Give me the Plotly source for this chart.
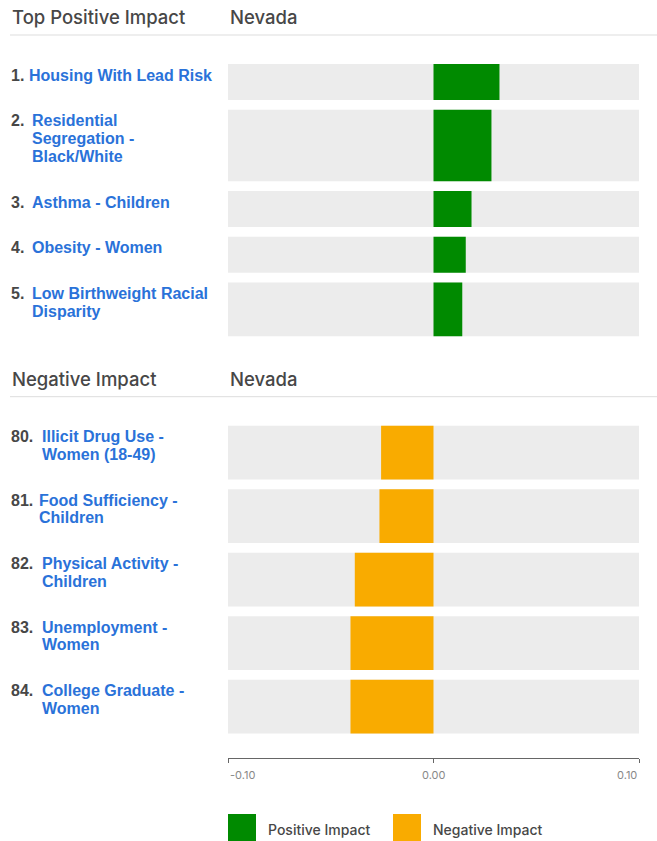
import plotly.graph_objects as go

# ---------------- data ----------------
pos_ranks = [1, 2, 3, 4, 5]
pos_labels = [
    "Housing With Lead Risk",
    "Residential<br>Segregation -<br>Black/White",
    "Asthma - Children",
    "Obesity - Women",
    "Low Birthweight Racial<br>Disparity",
]
pos_values = [0.0321, 0.0282, 0.0185, 0.0157, 0.0140]

neg_ranks = [80, 81, 82, 83, 84]
neg_labels = [
    "Illicit Drug Use -<br>Women (18-49)",
    "Food Sufficiency -<br>Children",
    "Physical Activity -<br>Children",
    "Unemployment -<br>Women",
    "College Graduate -<br>Women",
]
neg_values = [-0.0255, -0.0263, -0.0383, -0.0404, -0.0404]

section_titles = ["Top Positive Impact", "Negative Impact"]
region_name = "Nevada"
x_ticks = [-0.10, 0.00, 0.10]
x_tick_text = ["-0.10", "0.00", "0.10"]
legend_names = ["Positive Impact", "Negative Impact"]

# ---------------- styling / layout constants ----------------
W, H = 657, 841
PLOT_L, PLOT_R = 228, 639
AXIS_Y = 758
X_MIN, X_MAX = x_ticks[0], x_ticks[-1]

GREEN = "#008a00"
ORANGE = "#f9ab00"
TRACK = "#ececec"
BLUE = "#2a72d9"
DARK = "#474747"
FONT = "Inter"
LABEL_FONT = "Liberation Sans"

LINE_H = 17.7
ROW_PAD = 18.3
ROW_GAP = 9.8
FIRST_TOP = 64.0
SECTION_GAP = 89.4


def px_x(p):
    return (p - PLOT_L) / (PLOT_R - PLOT_L)


def px_y(p):
    return (AXIS_Y - p) / AXIS_Y


def rank_offset(rank):
    w = 10
    for ch in str(rank):
        w += 7.5 if ch == "1" else 10.3
    return w + 10.5


fig = go.Figure()
annotations = []
shapes = []


def build_section(top, ranks, labels, values, color, title):
    # header
    for txt, xpos in [(title, px_x(10)), (region_name, 0)]:
        annotations.append(dict(text=txt, xref="paper", yref="paper", x=xpos, y=px_y(top - 47),
                                xanchor="left", yanchor="middle", showarrow=False,
                                font=dict(family=FONT, size=18.5, color=DARK, weight=500)))
    shapes.append(dict(type="line", xref="paper", yref="paper", x0=px_x(10), x1=px_x(W),
                       y0=px_y(top - 29), y1=px_y(top - 29), line=dict(color="#dddddd", width=1)))
    centers, heights = [], []
    y = top
    for rank, lab in zip(ranks, labels):
        lines = lab.split("<br>")
        h = ROW_PAD + LINE_H * len(lines)
        centers.append(y + h / 2)
        heights.append(h)
        annotations.append(dict(text=f"{rank}.", xref="paper", yref="y", x=px_x(10), y=y + 11,
                                xanchor="left", yanchor="middle", showarrow=False, borderpad=0,
                                font=dict(family=LABEL_FONT, size=16, color=DARK, weight=700)))
        for i, ln in enumerate(lines):
            annotations.append(dict(text=ln, xref="paper", yref="y", x=px_x(rank_offset(rank)),
                                    y=y + 11 + LINE_H * i, xanchor="left", yanchor="middle",
                                    showarrow=False, borderpad=0,
                                    font=dict(family=LABEL_FONT, size=16, color=BLUE, weight=700)))
        y += h + ROW_GAP
    fig.add_trace(go.Bar(orientation="h", y=centers, x=[X_MAX - X_MIN] * len(centers), base=X_MIN,
                         width=heights, marker=dict(color=TRACK, line=dict(width=0)),
                         showlegend=False, hoverinfo="skip"))
    fig.add_trace(go.Bar(orientation="h", y=centers, x=values, base=0, width=heights,
                         marker=dict(color=color, line=dict(width=0)), showlegend=False))
    return y - ROW_GAP


end1 = build_section(FIRST_TOP, pos_ranks, pos_labels, pos_values, GREEN, section_titles[0])
build_section(end1 + SECTION_GAP, neg_ranks, neg_labels, neg_values, ORANGE, section_titles[1])

# tick labels
for v, t, anc in zip(x_ticks, x_tick_text, ["left", "center", "right"]):
    annotations.append(dict(text=t, xref="x", yref="paper", x=v, y=px_y(775), xanchor=anc,
                            yanchor="middle", showarrow=False,
                            font=dict(family=FONT, size=11, color="#888888", weight=400)))

# legend
for name, col, left in zip(legend_names, [GREEN, ORANGE], [228, 393]):
    shapes.append(dict(type="rect", xref="paper", yref="paper", x0=px_x(left), x1=px_x(left + 28),
                       y0=px_y(846), y1=px_y(814), fillcolor=col, line=dict(width=0)))
    annotations.append(dict(text=name, xref="paper", yref="paper", x=px_x(left + 38), y=px_y(829),
                            xanchor="left", yanchor="middle", showarrow=False,
                            font=dict(family=FONT, size=14, color=DARK, weight=500)))

fig.update_layout(
    width=W, height=H,
    margin=dict(l=PLOT_L, r=W - PLOT_R, t=0, b=H - AXIS_Y, pad=0),
    paper_bgcolor="white", plot_bgcolor="white",
    barmode="overlay", showlegend=False,
    xaxis=dict(range=[X_MIN, X_MAX], tickvals=x_ticks, showticklabels=False, ticks="outside",
               ticklen=4, tickcolor="#666666", showline=True, linecolor="#666666", linewidth=1,
               showgrid=False, zeroline=False, fixedrange=True),
    yaxis=dict(range=[AXIS_Y, 0], visible=False, fixedrange=True),
    annotations=annotations, shapes=shapes,
)

fig.write_html(
    "out.html",
    config={"displayModeBar": False},
    post_script="document.body.style.margin='0';document.body.style.overflow='hidden';",
)
